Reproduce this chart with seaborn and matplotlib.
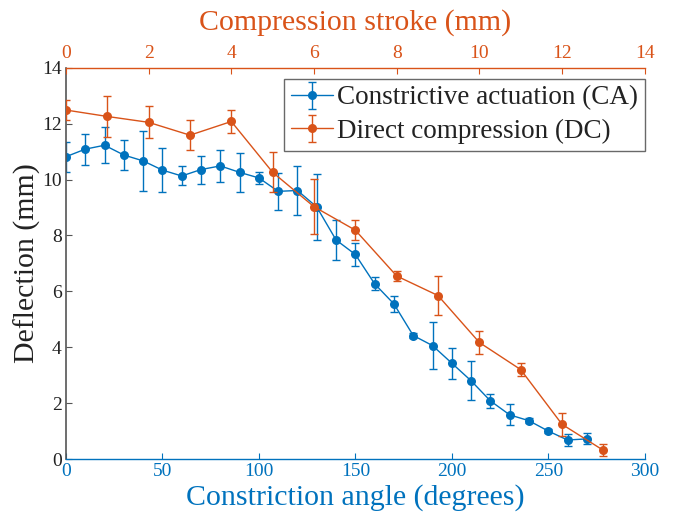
import matplotlib
matplotlib.use("Agg")
import matplotlib.pyplot as plt
import numpy as np
import pandas as pd
import seaborn as sns

# constrictive actuation, vs constriction angle (bottom axis)
angle_deg = [0, 10, 20, 30, 40, 50, 60, 70, 80, 90, 100, 110, 120, 130,
             140, 150, 160, 170, 180, 190, 200, 210, 220, 230, 240, 250, 260, 270]
ca_defl = [10.82, 11.09, 11.23, 10.88, 10.67, 10.34, 10.13, 10.36, 10.49, 10.26,
           10.06, 9.58, 9.61, 9.02, 7.84, 7.32, 6.27, 5.55, 4.42, 4.06,
           3.43, 2.80, 2.08, 1.58, 1.37, 1.00, 0.68, 0.72]
ca_err = [0.54, 0.55, 0.64, 0.54, 1.06, 0.79, 0.34, 0.50, 0.58, 0.70,
          0.22, 0.66, 0.87, 1.19, 0.73, 0.42, 0.23, 0.29, 0.08, 0.85,
          0.55, 0.70, 0.24, 0.38, 0.08, 0.06, 0.20, 0.20]

# direct compression, vs compression stroke (top axis)
stroke_mm = [0, 1, 2, 3, 4, 5, 6, 7, 8, 9, 10, 11, 12, 13]
dc_defl = [12.49, 12.26, 12.05, 11.59, 12.08, 10.26, 9.03, 8.19, 6.55, 5.85,
           4.17, 3.20, 1.24, 0.31]
dc_err = [0.37, 0.72, 0.57, 0.53, 0.42, 0.72, 0.98, 0.36, 0.18, 0.70,
          0.41, 0.22, 0.40, 0.21]

BLUE = "#0072BD"
ORANGE = "#D95319"
GREY = "#555555"

sns.set_style("white")
plt.rcParams["font.family"] = ["Liberation Serif", "DejaVu Serif"]

ca_df = pd.DataFrame({"angle": angle_deg, "defl": ca_defl, "err": ca_err})
dc_df = pd.DataFrame({"stroke": stroke_mm, "defl": dc_defl, "err": dc_err})

fig, ax = plt.subplots(figsize=(6.73, 5.14), dpi=100)
ax2 = ax.twiny()

# CA series on the bottom axis
ca_bars = ax.errorbar(ca_df["angle"], ca_df["defl"], yerr=ca_df["err"], fmt="none",
                      ecolor=BLUE, elinewidth=1.0, capsize=2.8, capthick=1.0)
sns.lineplot(data=ca_df, x="angle", y="defl", color=BLUE, marker="o", markersize=6.5,
             markeredgewidth=0, linewidth=1.0, ax=ax, legend=False)
ca_line = ax.lines[-1]

# DC series on the top axis
dc_bars = ax2.errorbar(dc_df["stroke"], dc_df["defl"], yerr=dc_df["err"], fmt="none",
                       ecolor=ORANGE, elinewidth=1.0, capsize=2.8, capthick=1.0)
sns.lineplot(data=dc_df, x="stroke", y="defl", color=ORANGE, marker="o", markersize=6.5,
             markeredgewidth=0, linewidth=1.0, ax=ax2, legend=False)
dc_line = ax2.lines[-1]

ax.set_xlim(0, 300)
ax.set_ylim(0, 14)
ax2.set_xlim(0, 14)
ax2.set_ylim(0, 14)
ax.set_xticks(np.arange(0, 301, 50))
ax.set_yticks(np.arange(0, 15, 2))
ax2.set_xticks(np.arange(0, 15, 2))

for s in ["top", "right"]:
    ax.spines[s].set_visible(False)
for s in ["bottom", "left", "right"]:
    ax2.spines[s].set_visible(False)
ax.spines["left"].set_color(GREY)
ax.spines["left"].set_linewidth(1.2)
ax.spines["bottom"].set_color(BLUE)
ax.spines["bottom"].set_linewidth(1.0)
ax2.spines["top"].set_color(ORANGE)
ax2.spines["top"].set_linewidth(1.0)

ax.tick_params(axis="x", direction="in", length=4, width=0.8, colors=BLUE,
               labelsize=14, pad=3)
ax.tick_params(axis="y", direction="in", length=4, width=0.8, color=GREY,
               labelcolor="#222222", labelsize=14, pad=3, left=True)
ax2.tick_params(axis="x", direction="in", length=4, width=0.8, colors=ORANGE,
                labelsize=14, pad=4, top=True)

ax.set_xlabel("Constriction angle (degrees)", fontsize=21.5, color=BLUE, labelpad=3)
ax.set_ylabel("Deflection (mm)", fontsize=21.5, color="#222222", labelpad=0.5)
ax2.set_xlabel("Compression stroke (mm)", fontsize=21.5, color=ORANGE, labelpad=11)
ax2.set_ylabel("")

leg = ax2.legend([(ca_bars, ca_line), (dc_bars, dc_line)],
                 ["Constrictive actuation (CA)", "Direct compression (DC)"],
                 loc="upper right", bbox_to_anchor=(1.0, 0.972), fontsize=19.5,
                 frameon=True, fancybox=False, edgecolor="#444444",
                 handlelength=1.55, handletextpad=0.15, borderpad=0.25,
                 labelspacing=0.3, borderaxespad=0.0)
leg.get_frame().set_linewidth(1.0)
for t in leg.get_texts():
    t.set_color("#222222")

plt.subplots_adjust(left=0.098, right=0.958, bottom=0.107, top=0.868)
fig.savefig("out.png", dpi=100)
